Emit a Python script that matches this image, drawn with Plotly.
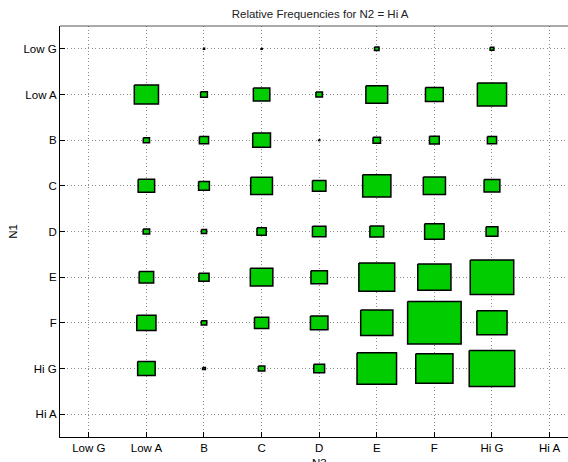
import plotly.graph_objects as go

# Category labels (same for both axes)
n3_labels = ["Low G", "Low A", "B", "C", "D", "E", "F", "Hi G", "Hi A"]
n1_labels = ["Low G", "Low A", "B", "C", "D", "E", "F", "Hi G", "Hi A"]

# Box side (fraction of a cell) for each N1 row, across the N3 columns
row_low_g = [0, 0, 0.021, 0.020, 0, 0.078, 0, 0.066, 0]
row_low_a = [0, 0.420, 0.118, 0.286, 0.113, 0.378, 0.309, 0.507, 0]
row_b     = [0, 0.108, 0.160, 0.309, 0.020, 0.130, 0.170, 0.160, 0]
row_c     = [0, 0.286, 0.188, 0.378, 0.234, 0.490, 0.385, 0.274, 0]
row_d     = [0, 0.113, 0.090, 0.160, 0.234, 0.240, 0.339, 0.205, 0]
row_e     = [0, 0.252, 0.177, 0.391, 0.286, 0.622, 0.576, 0.755, 0]
row_f     = [0, 0.333, 0.095, 0.247, 0.304, 0.559, 0.929, 0.524, 0]
row_hi_g  = [0, 0.304, 0.049, 0.113, 0.188, 0.686, 0.646, 0.790, 0]
row_hi_a  = [0, 0, 0, 0, 0, 0, 0, 0, 0]

rows = [row_low_g, row_low_a, row_b, row_c, row_d, row_e, row_f, row_hi_g, row_hi_a]

xs, ys = [], []
for i, row in enumerate(rows):
    yc = i + 1
    for j, s in enumerate(row):
        if s <= 0:
            continue
        xc = j + 1
        h = s / 2
        xs += [xc - h, xc + h, xc + h, xc - h, xc - h, None]
        ys += [yc - h, yc - h, yc + h, yc + h, yc - h, None]

fig = go.Figure()
fig.add_trace(go.Scatter(
    x=xs, y=ys, mode="lines", fill="toself",
    fillcolor="#00CC00", line=dict(color="black", width=1.5),
    hoverinfo="skip", showlegend=False,
))

FAM = "Liberation Sans, Arial, sans-serif"
font = dict(family=FAM, size=11.5, color="black")

fig.update_layout(
    width=568, height=462,
    margin=dict(l=60, r=0, t=26, b=25),
    paper_bgcolor="white", plot_bgcolor="white",
    font=font,
    title=dict(text="Relative Frequencies for N2 = Hi A", x=0.512, xref="paper",
               xanchor="center", y=1 - 14 / 462, yref="container", yanchor="middle",
               font=dict(family=FAM, size=11.5, color="#222")),
    xaxis=dict(
        range=[0.5, 9.32], tickmode="array", tickvals=list(range(1, 10)), ticktext=n3_labels,
        showgrid=True, gridcolor="#8c8c8c", griddash="1px,2.5px", gridwidth=1,
        zeroline=False, showline=True, linecolor="black", linewidth=1,
        ticks="inside", ticklen=5, tickcolor="black",
        automargin=False,
    ),
    yaxis=dict(
        range=[9.5, 0.5], tickmode="array", tickvals=list(range(1, 10)), ticktext=n1_labels,
        showgrid=True, gridcolor="#8c8c8c", griddash="1px,2.5px", gridwidth=1,
        zeroline=False, showline=True, linecolor="black", linewidth=1,
        ticks="inside", ticklen=5, tickcolor="black",
        title=dict(text="N1", standoff=3, font=dict(family=FAM, size=11.5, color="black")),
        automargin=False,
    ),
    shapes=[dict(type="line", xref="paper", yref="paper", x0=0, x1=1, y0=1, y1=1,
                 line=dict(color="#555", width=1))],
    annotations=[dict(text="N3", xref="paper", yref="paper",
                      x=(319 - 60) / 508, y=(437 - 455) / 411,
                      xanchor="center", yanchor="top", showarrow=False,
                      font=dict(family=FAM, size=11.5, color="black"))],
)

fig.write_html("out.html", config={"displayModeBar": False},
               post_script="document.body.style.margin='0';document.body.style.overflow='hidden';")
